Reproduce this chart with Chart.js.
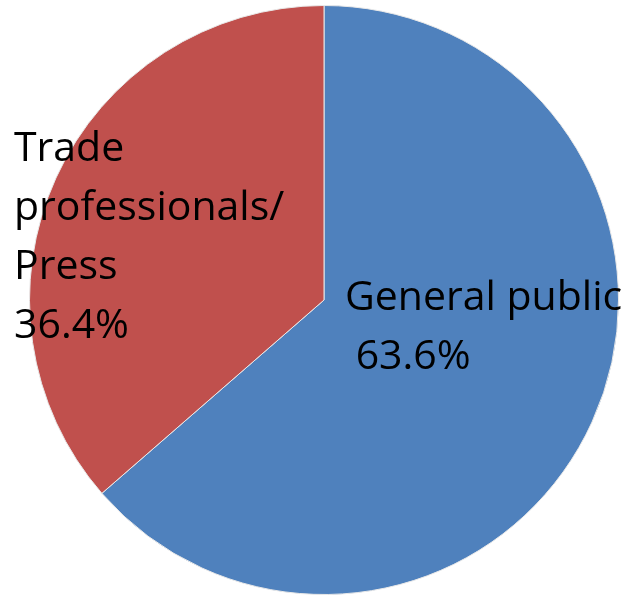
<!DOCTYPE html>
<html>
<head>
<meta charset="utf-8">
<script src="https://cdn.jsdelivr.net/npm/chart.js@4"></script>
<style>
  html, body { margin: 0; padding: 0; background: #fff; }
  #wrap { width: 635px; height: 597px; }
</style>
</head>
<body>
<div id="wrap"><canvas id="myChart"></canvas></div>
<script>
// Data
const categories = ["General public", "Trade professionals/ Press"];
const values = [63.6, 36.4];
const labelLines = [["General public", " 63.6%"], ["Trade", "professionals/", "Press", "36.4%"]];
const colors = ["#4F81BD", "#C0504D"];

// label text drawn on top of the slices
const sliceLabels = {
  id: 'sliceLabels',
  afterDatasetsDraw(chart) {
    const ctx = chart.ctx;
    const meta = chart.getDatasetMeta(0);
    const c = meta.data[0];
    const spots = [
      { x: c.x + 21, y: c.y + 10 },
      { x: c.x - 310, y: c.y - 139 }
    ];
    ctx.save();
    ctx.font = '41px "Open Sans"';
    ctx.fillStyle = '#000';
    ctx.textBaseline = 'alphabetic';
    labelLines.forEach((lines, i) => {
      lines.forEach((t, j) => {
        ctx.fillText(t, spots[i].x, spots[i].y + j * 59);
      });
    });
    ctx.restore();
  }
};

new Chart(
  document.getElementById('myChart'),
  {
    type: 'pie',
    data: {
      labels: categories,
      datasets: [
        {
          data: values,
          backgroundColor: colors,
          borderColor: '#e8e8e8',
          borderWidth: 1
        }
      ]
    },
    options: {
      responsive: true,
      maintainAspectRatio: false,
      animation: false,
      layout: { padding: { left: 29, right: 16, top: 5, bottom: 2 } },
      plugins: {
        legend: { display: false },
        tooltip: { enabled: false }
      }
    },
    plugins: [sliceLabels]
  }
);
</script>
</body>
</html>
